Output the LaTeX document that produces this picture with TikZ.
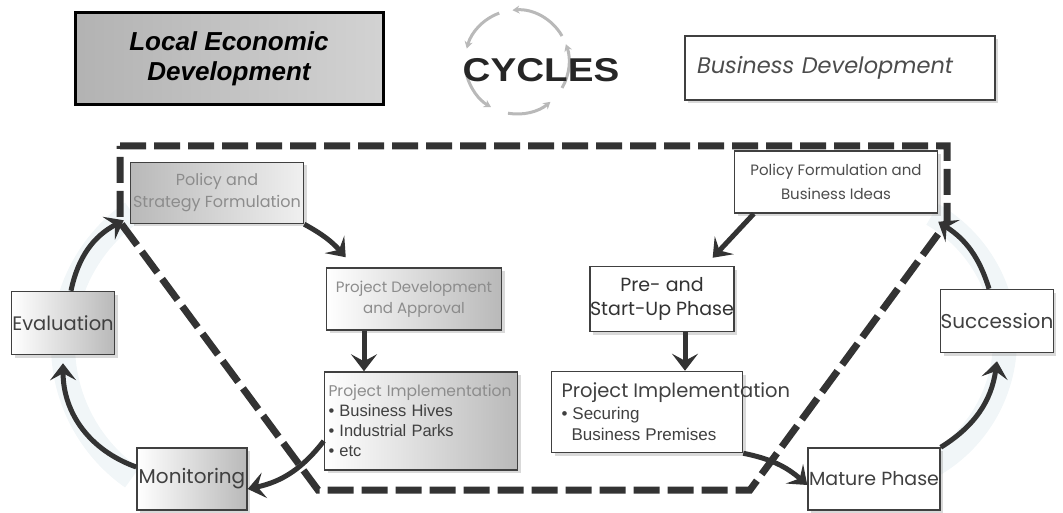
\documentclass[tikz,border=0pt]{standalone}
\usepackage{fontspec}
\setmainfont{Liberation Sans}
\newfontfamily\gothic{Poppins}
\newfontfamily\logofont[FakeStretch=1.17]{Liberation Sans}
\usetikzlibrary{arrows.meta,shadows}
\newcommand\hive{\rmfamily\color{black!75}\fontsize{16.5}{22}\selectfont}

\tikzset{
  box/.style={draw=black!75, line width=1.5pt, inner sep=2pt, align=center,
    drop shadow={opacity=0.3, shadow xshift=3pt, shadow yshift=-3pt}},
  graybox/.style={box, left color=white, right color=gray!55, text=black!45,
    font=\gothic\fontsize{15}{21}\selectfont},
  whitebox/.style={box, fill=white, text=black!70,
    font=\gothic\fontsize{15}{21}\selectfont},
  cyc/.style={-{Stealth[length=17pt,width=26pt,inset=7pt]}, line width=5pt, draw=black!80},
  border/.style={line width=7pt, draw=black!80, dash pattern=on 26pt off 8pt},
  glow/.style={line width=24pt, draw=cyan!40!gray, opacity=0.1},
  logoarc/.style={-{Stealth[length=7pt,width=8pt]}, line width=3pt, draw=gray!55}
}

\begin{document}
\begin{tikzpicture}[x=1pt,y=1pt]
  \useasboundingbox (0,0) rectangle (1063,-513);

  \draw[glow] (225,-345) ++(125:162) arc[start angle=125, end angle=235, radius=162];
  \draw[glow] (860,-340) ++(-60:145) arc[start angle=-60, end angle=60, radius=145];

  \draw[border] (120,-146) -- (947,-146) -- (947,-222) -- (750,-490) -- (318,-490) -- (120,-222) -- cycle;

  \node[draw=black, line width=3pt, left color=gray!60, middle color=gray!5, right color=gray!35,
    minimum width=308pt, minimum height=92pt, align=center,
    font=\bfseries\itshape\fontsize{26}{30}\selectfont] (led) at (229,-59) {Local Economic\\Development};

  \foreach \a/\b in {-30/20, 30/95, 110/165, 195/240, 260/310}
    \draw[logoarc] (517,-62) ++(\a:52) arc[start angle=\a, end angle=\b, radius=52];
  \node[font=\logofont\bfseries\fontsize{33}{33}\selectfont, text=black!85] (logo) at (541,-70) {CYCLES};

  \node[whitebox, align=left, text width=286pt, inner xsep=12pt, minimum height=64pt,
    font=\gothic\itshape\fontsize{22.5}{26}\selectfont] (bizdev) at (840,-68) {Business Development};

  \node[graybox, left color=gray!55, right color=gray!12, font=\gothic\fontsize{16}{22}\selectfont,
    minimum width=173pt, minimum height=61pt, inner sep=0pt] (polstrat) at (217,-193) {Policy and\\Strategy Formulation};
  \node[graybox, minimum width=175pt, minimum height=62pt] (projdev) at (414,-299) {Project Development\\and Approval};
  \node[graybox, align=left, text width=185pt, minimum height=98pt, inner xsep=4pt, font=\gothic\fontsize{15.5}{20}\selectfont] (implhives) at (421,-421)
    {Project Implementation\\{\hive • Business Hives}\\{\hive • Industrial Parks}\\{\hive • etc}};
  \node[graybox, text=black!75, font=\gothic\fontsize{19.5}{20}\selectfont, minimum width=103pt, minimum height=63pt, inner sep=0pt] (eval) at (63,-323) {Evaluation};
  \node[graybox, text=black!75, font=\gothic\fontsize{20}{20}\selectfont, minimum width=110pt, minimum height=62pt, inner sep=0pt] (monit) at (192,-479) {Monitoring};

  \node[whitebox, minimum width=203pt, minimum height=62pt, inner sep=0pt, font=\gothic\fontsize{15}{24}\selectfont] (polbiz) at (836,-182) {Policy Formulation and\\Business Ideas};
  \node[whitebox, text=black!80, font=\gothic\fontsize{19}{24}\selectfont, minimum width=139pt, minimum height=65pt, inner sep=0pt] (startup) at (662,-299) {Pre- and\\Start-Up Phase};
  \node[whitebox, text=black!75, align=left, text width=171pt, inner xsep=10pt, minimum height=81pt] (implpremises) at (647,-412)
    {\fontsize{19.5}{22}\selectfont\makebox[0pt][l]{Project Implementation}\\{\hive\fontsize{17}{21}\selectfont • Securing}\\{\hive\fontsize{17}{21}\selectfont\ \ Business Premises}};
  \node[whitebox, text=black!75, font=\gothic\fontsize{20}{20}\selectfont, minimum width=105pt, minimum height=63pt, inner sep=0pt] (succ) at (997,-321) {Succession};
  \node[whitebox, text=black!75, font=\gothic\fontsize{19}{20}\selectfont, minimum width=132pt, minimum height=62pt, inner sep=0pt] (mature) at (874,-479) {Mature Phase};

  \draw[cyc] ([xshift=8]eval.north) to[bend left=25] ([shift={(-6,4)}]polstrat.south west);
  \draw[cyc] ([yshift=12]monit.west) to[bend left=35] ([yshift=-8]eval.south);
  \draw[cyc] ([yshift=-20]implhives.west) to[bend left=20] ([yshift=-10]monit.east);
  \draw[cyc] (polstrat.south east) to[bend left=10] ([shift={(20,10)}]projdev.north west);
  \draw[cyc] ([xshift=-50]projdev.south) -- ([xshift=-57]implhives.north);

  \draw[cyc] ([xshift=20]polbiz.south west) -- ([shift={(-22,8)}]startup.north east);
  \draw[cyc] ([xshift=23]startup.south) -- ([xshift=38]implpremises.north);
  \draw[cyc] (implpremises.south east) to[bend left=15] ([yshift=-6]mature.west);
  \draw[cyc] (mature.north east) to[bend right=25] ([yshift=-8]succ.south);
  \draw[cyc] ([xshift=-8]succ.north) to[bend right=20] ([yshift=-8]polbiz.south east);
\end{tikzpicture}
\end{document}
